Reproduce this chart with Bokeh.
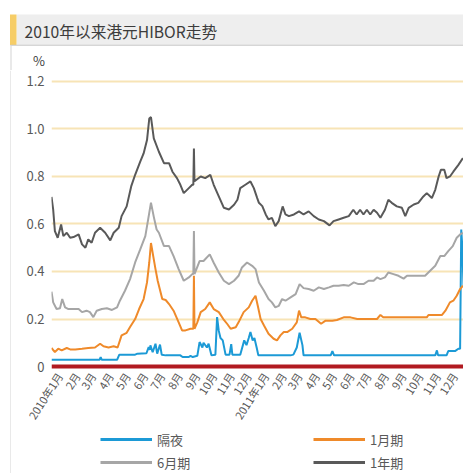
import pandas as pd
from bokeh.plotting import figure
from bokeh.layouts import column, row
from bokeh.models import (Range1d, FixedTicker, Legend, LegendItem, Span, NumeralTickFormatter)
from bokeh.core.properties import value
from bokeh.embed import file_html
from bokeh.resources import INLINE

# ---------------- data ----------------
title_text = "2010年以来港元HIBOR走势"
unit_text = "%"
series_names = ["隔夜", "1月期", "6月期", "1年期"]
month_labels = ["2010年1月", "2月", "3月", "4月", "5月", "6月", "7月", "8月", "9月", "10月", "11月", "12月",
                "2011年1月", "2月", "3月", "4月", "5月", "6月", "7月", "8月", "9月", "10月", "11月", "12月"]
y_ticks = [0, 0.2, 0.4, 0.6, 0.8, 1.0, 1.2]

overnight = [
    ("2010-01-01", .028), ("2010-03-27", .028), ("2010-03-29", .04), ("2010-03-31", .028),
    ("2010-04-27", .028), ("2010-05-01", .05), ("2010-05-29", .05), ("2010-06-02", .054),
    ("2010-06-18", .056), ("2010-06-22", .082), ("2010-06-24", .07), ("2010-06-25", .089),
    ("2010-06-29", .06), ("2010-07-04", .096), ("2010-07-07", .054), ("2010-07-12", .092),
    ("2010-07-15", .05), ("2010-07-22", .047), ("2010-08-17", .047), ("2010-08-21", .04),
    ("2010-09-01", .04), ("2010-09-04", .045), ("2010-09-08", .04), ("2010-09-16", .045),
    ("2010-09-20", .103), ("2010-09-25", .08), ("2010-09-27", .1), ("2010-10-03", .08),
    ("2010-10-06", .096), ("2010-10-11", .047), ("2010-10-18", .05), ("2010-10-21", .208),
    ("2010-10-24", .15), ("2010-10-27", .12), ("2010-10-31", .11), ("2010-11-05", .05),
    ("2010-11-12", .05), ("2010-11-15", .094), ("2010-11-17", .05), ("2010-12-01", .05),
    ("2010-12-08", .11), ("2010-12-12", .09), ("2010-12-16", .12), ("2010-12-19", .145),
    ("2010-12-23", .11), ("2010-12-26", .12), ("2010-12-30", .08), ("2011-01-02", .047),
    ("2011-02-28", .047), ("2011-03-05", .05), ("2011-03-11", .08), ("2011-03-16", .142),
    ("2011-03-21", .09), ("2011-03-23", .047), ("2011-05-10", .047), ("2011-05-13", .065),
    ("2011-05-16", .047), ("2011-11-11", .047), ("2011-11-14", .068), ("2011-11-16", .047),
    ("2011-12-01", .047), ("2011-12-04", .065), ("2011-12-16", .065), ("2011-12-22", .075),
    ("2011-12-25", .075), ("2011-12-27", .577), ("2011-12-29", .50), ("2011-12-31", .34),
]

one_month = [
    ("2010-01-01", .078), ("2010-01-07", .061), ("2010-01-13", .075), ("2010-01-19", .068),
    ("2010-01-28", .078), ("2010-02-03", .072), ("2010-02-12", .072), ("2010-02-24", .075),
    ("2010-03-07", .078), ("2010-03-19", .08), ("2010-03-28", .096), ("2010-04-03", .085),
    ("2010-04-12", .08), ("2010-04-21", .085), ("2010-04-28", .08), ("2010-05-05", .131),
    ("2010-05-14", .142), ("2010-05-20", .166), ("2010-05-29", .2), ("2010-06-05", .242),
    ("2010-06-13", .284), ("2010-06-19", .354), ("2010-06-23", .438), ("2010-06-26", .52),
    ("2010-06-30", .465), ("2010-07-04", .41), ("2010-07-08", .36), ("2010-07-16", .284),
    ("2010-07-22", .28), ("2010-07-28", .263), ("2010-08-05", .235), ("2010-08-14", .186),
    ("2010-08-20", .152), ("2010-08-26", .152), ("2010-09-04", .159), ("2010-09-09", .159),
    ("2010-09-10", .382), ("2010-09-11", .159), ("2010-09-16", .186), ("2010-09-22", .229),
    ("2010-09-30", .242), ("2010-10-08", .27), ("2010-10-15", .242), ("2010-10-24", .229),
    ("2010-11-01", .2), ("2010-11-08", .179), ("2010-11-14", .159), ("2010-11-23", .165),
    ("2010-11-28", .186), ("2010-12-07", .229), ("2010-12-16", .249), ("2010-12-22", .277),
    ("2010-12-28", .298), ("2011-01-01", .256), ("2011-01-06", .2), ("2011-01-12", .173),
    ("2011-01-20", .138), ("2011-01-29", .117), ("2011-02-04", .11), ("2011-02-10", .131),
    ("2011-02-16", .145), ("2011-02-22", .145), ("2011-03-03", .159), ("2011-03-11", .186),
    ("2011-03-15", .235), ("2011-03-19", .207), ("2011-03-26", .207), ("2011-04-04", .2),
    ("2011-04-13", .2), ("2011-04-23", .18), ("2011-05-01", .193), ("2011-05-13", .193),
    ("2011-05-21", .196), ("2011-06-02", .207), ("2011-06-14", .207), ("2011-06-26", .2),
    ("2011-07-31", .2), ("2011-08-06", .217), ("2011-08-11", .207), ("2011-09-03", .207),
    ("2011-10-04", .207), ("2011-10-27", .207), ("2011-10-30", .217), ("2011-11-23", .217),
    ("2011-11-29", .235), ("2011-12-07", .27), ("2011-12-13", .277), ("2011-12-19", .298),
    ("2011-12-25", .326), ("2011-12-30", .34),
]

six_month = [
    ("2010-01-01", .315), ("2010-01-04", .27), ("2010-01-10", .242), ("2010-01-16", .245),
    ("2010-01-20", .284), ("2010-01-25", .249), ("2010-01-31", .242), ("2010-02-09", .242),
    ("2010-02-18", .242), ("2010-02-24", .229), ("2010-03-04", .235), ("2010-03-10", .229),
    ("2010-03-16", .208), ("2010-03-22", .235), ("2010-03-31", .242), ("2010-04-09", .245),
    ("2010-04-18", .238), ("2010-04-27", .249), ("2010-05-02", .277), ("2010-05-11", .319),
    ("2010-05-20", .368), ("2010-05-29", .438), ("2010-06-07", .493), ("2010-06-16", .549),
    ("2010-06-22", .633), ("2010-06-26", .69), ("2010-07-01", .63), ("2010-07-06", .577),
    ("2010-07-10", .563), ("2010-07-19", .507), ("2010-07-28", .507), ("2010-08-05", .465),
    ("2010-08-14", .41), ("2010-08-23", .361), ("2010-09-01", .375), ("2010-09-07", .389),
    ("2010-09-09", .389), ("2010-09-10", .57), ("2010-09-11", .389), ("2010-09-20", .444),
    ("2010-09-27", .444), ("2010-10-08", .472), ("2010-10-15", .437), ("2010-10-24", .396),
    ("2010-11-02", .361), ("2010-11-11", .347), ("2010-11-20", .361), ("2010-11-28", .382),
    ("2010-12-04", .417), ("2010-12-13", .438), ("2010-12-22", .424), ("2010-12-28", .41),
    ("2011-01-03", .354), ("2011-01-12", .319), ("2011-01-20", .284), ("2011-01-26", .27),
    ("2011-02-01", .249), ("2011-02-07", .255), ("2011-02-13", .284), ("2011-02-19", .277),
    ("2011-02-28", .291), ("2011-03-09", .305), ("2011-03-16", .347), ("2011-03-23", .33),
    ("2011-04-01", .326), ("2011-04-10", .319), ("2011-04-19", .333), ("2011-04-28", .326),
    ("2011-05-07", .333), ("2011-05-15", .34), ("2011-05-24", .34), ("2011-06-02", .343),
    ("2011-06-11", .34), ("2011-06-20", .354), ("2011-06-28", .347), ("2011-07-07", .347),
    ("2011-07-16", .361), ("2011-07-25", .361), ("2011-07-31", .375), ("2011-08-06", .368),
    ("2011-08-14", .375), ("2011-08-20", .396), ("2011-08-29", .389), ("2011-09-07", .382),
    ("2011-09-16", .37), ("2011-09-22", .382), ("2011-10-04", .382), ("2011-10-15", .382),
    ("2011-10-24", .382), ("2011-11-02", .403), ("2011-11-11", .424), ("2011-11-20", .465),
    ("2011-11-27", .465), ("2011-12-04", .486), ("2011-12-12", .507), ("2011-12-19", .542),
    ("2011-12-25", .556), ("2011-12-30", .563),
]

one_year = [
    ("2010-01-01", .714), ("2010-01-04", .66), ("2010-01-07", .57), ("2010-01-12", .542),
    ("2010-01-18", .598), ("2010-01-22", .549), ("2010-01-28", .563), ("2010-02-03", .542),
    ("2010-02-09", .545), ("2010-02-18", .556), ("2010-02-24", .514), ("2010-03-02", .50),
    ("2010-03-07", .535), ("2010-03-13", .521), ("2010-03-19", .563), ("2010-03-28", .584),
    ("2010-04-06", .563), ("2010-04-15", .531), ("2010-04-21", .563), ("2010-04-30", .584),
    ("2010-05-05", .633), ("2010-05-14", .674), ("2010-05-22", .758), ("2010-05-29", .807),
    ("2010-06-07", .862), ("2010-06-13", .897), ("2010-06-19", .953), ("2010-06-23", 1.044),
    ("2010-06-26", 1.05), ("2010-07-01", .96), ("2010-07-10", .904), ("2010-07-19", .856),
    ("2010-07-28", .856), ("2010-08-03", .82), ("2010-08-11", .793), ("2010-08-17", .765),
    ("2010-08-23", .73), ("2010-09-01", .751), ("2010-09-07", .765), ("2010-09-09", .765),
    ("2010-09-10", .918), ("2010-09-11", .78), ("2010-09-22", .80), ("2010-09-30", .793),
    ("2010-10-09", .807), ("2010-10-15", .765), ("2010-10-24", .716), ("2010-11-02", .668),
    ("2010-11-11", .661), ("2010-11-20", .681), ("2010-11-26", .702), ("2010-12-01", .751),
    ("2010-12-10", .765), ("2010-12-19", .779), ("2010-12-25", .751), ("2010-12-31", .709),
    ("2011-01-03", .689), ("2011-01-09", .675), ("2011-01-15", .64), ("2011-01-20", .619),
    ("2011-01-26", .626), ("2011-02-01", .591), ("2011-02-07", .612), ("2011-02-14", .674),
    ("2011-02-19", .64), ("2011-02-25", .633), ("2011-03-06", .64), ("2011-03-15", .653),
    ("2011-03-23", .64), ("2011-04-01", .653), ("2011-04-10", .633), ("2011-04-19", .619),
    ("2011-04-28", .612), ("2011-05-08", .594), ("2011-05-15", .612), ("2011-05-24", .619),
    ("2011-06-02", .626), ("2011-06-11", .633), ("2011-06-19", .66), ("2011-06-25", .64),
    ("2011-07-01", .66), ("2011-07-07", .64), ("2011-07-13", .66), ("2011-07-19", .64),
    ("2011-07-25", .66), ("2011-07-31", .647), ("2011-08-06", .626), ("2011-08-14", .66),
    ("2011-08-20", .702), ("2011-08-26", .689), ("2011-09-04", .674), ("2011-09-13", .668),
    ("2011-09-19", .633), ("2011-09-25", .668), ("2011-10-04", .682), ("2011-10-12", .689),
    ("2011-10-21", .716), ("2011-10-27", .73), ("2011-11-05", .709), ("2011-11-11", .744),
    ("2011-11-17", .80), ("2011-11-21", .828), ("2011-11-27", .828), ("2011-12-01", .793),
    ("2011-12-07", .80), ("2011-12-13", .82), ("2011-12-22", .849), ("2011-12-30", .877),
]

colors = ["#1c9ad6", "#ef8a2a", "#a6a6a6", "#595959"]

# ---------------- helpers ----------------
START = pd.Timestamp("2010-01-01")


def split(pairs):
    d = pd.to_datetime([a for a, _ in pairs])
    return [int(v) for v in (d - START).days], [b for _, b in pairs]


def bare(fig):
    fig.xaxis.visible = False
    fig.yaxis.visible = False
    fig.grid.visible = False
    fig.outline_line_color = None
    fig.background_fill_color = "white"
    fig.border_fill_color = "white"
    return fig


FONT = "Noto Sans CJK SC"
PAGE_W, PAGE_H = 463, 473
HEAD_H = 70          # header strip (title band + unit label)
STRIP_W = 11         # left strip carrying the thin border line
AXIS_H = 57          # room under the plot frame for the rotated month labels
FRAME_TOP, FRAME_BOT = 70, 372       # page y of the plot frame
MAIN_W = PAGE_W - STRIP_W
MAIN_H = FRAME_BOT + AXIS_H - HEAD_H
LEG_H = PAGE_H - HEAD_H - MAIN_H
BODY_H = PAGE_H - HEAD_H

# ---------------- header ----------------
head = bare(figure(width=PAGE_W, height=HEAD_H, output_backend="svg", toolbar_location=None,
                   title=None, x_range=Range1d(0, PAGE_W), y_range=Range1d(HEAD_H, 0),
                   min_border=0))
head.quad(left=[16], right=[PAGE_W], top=[14], bottom=[44.5], fill_color="#eeeeee", line_color=None)
head.quad(left=[9.5], right=[16], top=[14], bottom=[44.5], fill_color="#f6cd67", line_color=None)
head.quad(left=[10], right=[PAGE_W], top=[44.3], bottom=[45.3], fill_color="#c8c8c8", line_color=None)
head.quad(left=[10], right=[11], top=[44.5], bottom=[HEAD_H], fill_color="#d4d4d4", line_color=None)
head.text(x=[24], y=[30.5], text=[title_text], text_font=value(FONT), text_font_size="15.7px",
          text_color="#3c3c3c", text_baseline="middle", text_align="left")
head.text(x=[38.5], y=[60], text=[unit_text], text_font=value(FONT), text_font_size="13px",
          text_color="#404040", text_baseline="middle", text_align="center")

# ---------------- left border strip ----------------
strip = bare(figure(width=STRIP_W, height=BODY_H, output_backend="svg", toolbar_location=None,
                    title=None, x_range=Range1d(0, STRIP_W), y_range=Range1d(0, BODY_H),
                    min_border=0))
strip.quad(left=[10], right=[11], bottom=[0], top=[BODY_H], fill_color="#d4d4d4", line_color=None)

# ---------------- main chart ----------------
FRAME_LEFT = 51 - STRIP_W            # page x 51
px_per_unit = (368 - 81) / 1.2
y_lo = (368 - FRAME_BOT) / px_per_unit
y_hi = (368 - FRAME_TOP) / px_per_unit

p = figure(width=MAIN_W, height=MAIN_H, output_backend="svg", toolbar_location=None, title=None,
           x_range=Range1d(0, 729), y_range=Range1d(y_lo, y_hi),
           min_border_left=FRAME_LEFT, min_border_right=0, min_border_top=0,
           min_border_bottom=AXIS_H)
p.background_fill_color = "white"
p.border_fill_color = "white"
p.outline_line_color = None

months = pd.date_range("2010-01-01", periods=24, freq="MS")
tick_days = [int(v) + 14 for v in (months - START).days]
p.xaxis.ticker = FixedTicker(ticks=tick_days)
p.xaxis.major_label_overrides = {d: lab for d, lab in zip(tick_days, month_labels)}
p.xaxis.major_label_orientation = 1.0
p.xaxis.axis_line_color = None
p.xaxis.major_tick_line_color = None
p.xaxis.minor_tick_line_color = None
p.xaxis.major_tick_out = 0
p.xaxis.major_tick_in = 0
p.xaxis.major_label_standoff = 3
p.xaxis.major_label_text_font = FONT
p.xaxis.major_label_text_font_size = "11px"
p.xaxis.major_label_text_color = "#595959"

p.yaxis.ticker = FixedTicker(ticks=y_ticks)
p.yaxis.formatter = NumeralTickFormatter(format="0.0")
p.yaxis.major_label_overrides = {0: "0"}
p.yaxis.axis_line_color = None
p.yaxis.major_tick_line_color = None
p.yaxis.minor_tick_line_color = None
p.yaxis.major_tick_out = 0
p.yaxis.major_tick_in = 0
p.yaxis.major_label_standoff = 7
p.yaxis.major_label_text_font = FONT
p.yaxis.major_label_text_font_size = "13px"
p.yaxis.major_label_text_color = "#595959"

p.xgrid.visible = False
p.ygrid.ticker = FixedTicker(ticks=y_ticks[1:])
p.ygrid.grid_line_color = "#f7e4b6"
p.ygrid.grid_line_width = 2

series = [overnight, one_month, six_month, one_year]
for pairs, col in zip(series, colors):
    xs, ys = split(pairs)
    p.line(xs, ys, line_color=col, line_width=2)

p.add_layout(Span(location=0, dimension="width", line_color="#b11a21", line_width=4))

# ---------------- legend strip (series drawn out of view, only the legend shows) ----------------
ITEM_H, ROW_GAP = 20, 3
LEGEND_TOTAL = 2 * ITEM_H + ROW_GAP
leg = bare(figure(width=MAIN_W, height=LEG_H, output_backend="svg", toolbar_location=None,
                  title=None, x_range=Range1d(-20, -10), y_range=Range1d(-20, -10), min_border=0))
leg_renderers = []
for pairs, col in zip(series, colors):
    xs, ys = split(pairs)
    leg_renderers.append(leg.line(xs, ys, line_color=col, line_width=3))
legend = Legend(items=[LegendItem(label=n, renderers=[r]) for n, r in zip(series_names, leg_renderers)],
                location=(100 - 51, LEG_H - LEGEND_TOTAL), orientation="horizontal", ncols=2,
                glyph_width=52, glyph_height=ITEM_H, label_height=ITEM_H, label_width=153,
                label_standoff=5, spacing=ROW_GAP, padding=0, margin=0,
                border_line_color=None, background_fill_alpha=0,
                label_text_font=FONT, label_text_font_size="13px", label_text_line_height=1.0,
                label_text_color="#595959")
leg.add_layout(legend)

layout = column(head, row(strip, column(p, leg, spacing=0), spacing=0), spacing=0)
open("out.html", "w").write(file_html(layout, INLINE))
